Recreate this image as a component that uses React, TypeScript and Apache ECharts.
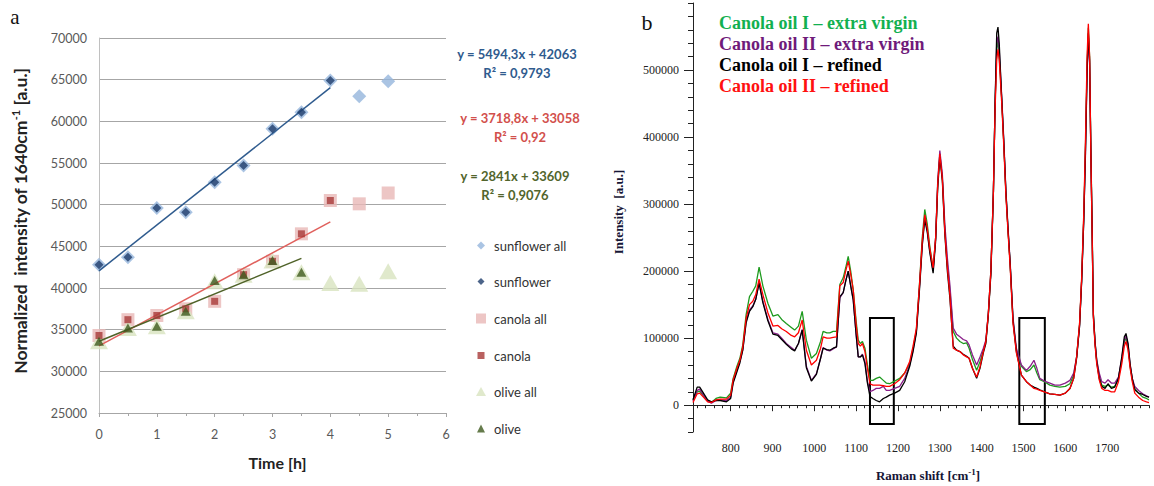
import React, { useEffect, useRef } from "react";
import * as echarts from "echarts";

// ---------- Panel a data ----------
const timeAll = [0, 0.5, 1, 1.5, 2, 2.5, 3, 3.5, 4, 4.5, 5];
const sunflowerAll = [42800, 43700, 49600, 49100, 52700, 54700, 59100, 61100, 64900, 63000, 64800];
const sunflower = [42800, 43700, 49600, 49100, 52700, 54700, 59100, 61100, 64900];
const canolaAll = [34300, 36200, 36700, 37500, 38400, 41600, 43200, 46500, 50500, 50100, 51400];
const canola = [34300, 36200, 36700, 37500, 38400, 41600, 43200, 46500, 50500];
const oliveAll = [33600, 35200, 35400, 37200, 40800, 41600, 43300, 41900, 40600, 40500, 42000];
const olive = [33600, 35200, 35400, 37200, 40900, 41600, 43300, 41900];
const sunflowerTrend = [[0, 42063], [4, 64040]];
const canolaTrend = [[0, 33058], [4, 47933]];
const oliveTrend = [[0, 33609], [3.5, 43553]];
const equations = [
  ["y = 5494,3x + 42063", "R² = 0,9793"],
  ["y = 3718,8x + 33058", "R² = 0,92"],
  ["y = 2841x + 33609", "R² = 0,9076"],
];
const leftYTicks = [25000, 70000, 5000];
const leftXTicks = [0, 6, 1];

// ---------- Panel b data (intensity in thousands of a.u.) ----------
const ramanShift = [
  710, 720, 726, 735, 745, 754, 765, 775, 790, 800, 806, 815, 822, 829, 837, 845, 853, 860, 868, 877,
  889, 901, 913, 922, 933, 945, 953, 962, 971, 981, 993, 1005, 1015, 1021, 1030, 1037, 1045, 1053, 1061, 1069,
  1075, 1081, 1087, 1093, 1100, 1105, 1110, 1115, 1121, 1127, 1133, 1140, 1148, 1156, 1165, 1172, 1180, 1192, 1204, 1216,
  1228, 1236, 1244, 1252, 1258, 1264, 1270, 1276, 1284, 1290, 1295, 1300, 1306, 1312, 1318, 1324, 1332, 1340, 1348, 1356,
  1364, 1370, 1378, 1388, 1396, 1404, 1410, 1416, 1422, 1428, 1432, 1436, 1439, 1442, 1448, 1453, 1458, 1463, 1468, 1475,
  1483, 1495, 1507, 1516, 1525, 1532, 1539, 1550, 1563, 1575, 1587, 1600, 1611, 1620, 1627, 1634, 1639, 1644, 1648, 1652,
  1655, 1658, 1661, 1664, 1667, 1671, 1675, 1681, 1687, 1695, 1702, 1710, 1718, 1727, 1735, 1741, 1745, 1750, 1755, 1760,
  1766, 1775, 1785, 1794, 1800,
];
const oilIVirgin = [
  8, 20, 21, 14, 7, 4, 10, 12, 11, 18, 40, 58, 70, 90, 135, 162, 170, 178, 206, 178,
  152, 133, 135, 128, 122, 116, 112, 118, 140, 97, 70, 77, 95, 110, 108, 108, 110, 110, 180, 190,
  205, 222, 200, 172, 125, 97, 92, 95, 85, 60, 37, 37, 40, 42, 37, 33, 32, 36, 40, 48,
  62, 85, 112, 187, 250, 292, 270, 237, 203, 250, 330, 375, 340, 262, 210, 172, 110, 100, 95, 92,
  93, 85, 68, 52, 65, 82, 95, 137, 200, 317, 447, 530, 545, 520, 456, 390, 317, 262, 212, 127,
  82, 58, 50, 53, 60, 48, 38, 35, 30, 28, 27, 28, 32, 45, 72, 120, 187, 280, 380, 506,
  563, 520, 382, 270, 137, 95, 67, 45, 30, 28, 30, 27, 28, 40, 67, 95, 100, 85, 57, 38,
  25, 18, 12, 10, 8,
];
const oilIIVirgin = [
  6, 22, 24, 15, 6, 3, 7, 8, 7, 12, 35, 52, 65, 83, 125, 142, 148, 158, 183, 155,
  128, 108, 106, 100, 92, 86, 82, 92, 113, 58, 37, 47, 70, 86, 82, 81, 84, 87, 160, 168,
  185, 200, 178, 157, 105, 72, 72, 76, 65, 35, 20, 22, 25, 25, 28, 22, 22, 25, 28, 40,
  60, 82, 110, 182, 240, 282, 260, 230, 200, 250, 335, 380, 345, 270, 220, 180, 115, 106, 102, 98,
  96, 90, 75, 60, 72, 85, 97, 138, 200, 317, 447, 540, 550, 530, 460, 395, 320, 265, 215, 130,
  85, 60, 52, 58, 67, 55, 40, 36, 33, 30, 30, 33, 37, 48, 72, 118, 185, 275, 370, 495,
  550, 510, 375, 260, 135, 95, 68, 48, 35, 33, 38, 33, 33, 42, 70, 98, 103, 90, 60, 40,
  28, 22, 17, 14, 12,
];
const oilIRefined = [
  8, 27, 27, 18, 8, 5, 7, 7, 5, 10, 33, 50, 63, 82, 123, 140, 147, 158, 182, 153,
  126, 106, 104, 98, 91, 84, 81, 92, 112, 56, 36, 46, 70, 85, 83, 82, 85, 87, 162, 168,
  185, 200, 178, 157, 105, 72, 72, 75, 62, 33, 13, 10, 7, 5, 10, 12, 15, 18, 22, 35,
  58, 80, 108, 178, 238, 277, 258, 228, 197, 245, 325, 370, 335, 255, 200, 160, 88, 82, 80, 76,
  73, 70, 55, 40, 55, 78, 92, 135, 195, 315, 447, 555, 564, 540, 456, 390, 317, 262, 212, 125,
  80, 45, 35, 30, 27, 25, 23, 20, 17, 16, 15, 18, 25, 40, 70, 118, 185, 275, 375, 500,
  555, 515, 380, 265, 135, 93, 65, 40, 28, 25, 32, 25, 27, 40, 72, 102, 107, 92, 60, 40,
  23, 18, 16, 13, 12,
];
const oilIIRefined = [
  4, 17, 18, 12, 5, 4, 8, 9, 9, 15, 38, 55, 67, 87, 130, 150, 155, 165, 188, 165,
  138, 118, 119, 114, 110, 104, 102, 108, 127, 82, 60, 67, 85, 102, 100, 100, 101, 102, 178, 183,
  200, 215, 195, 172, 120, 92, 88, 92, 80, 55, 32, 30, 30, 30, 29, 28, 28, 32, 38, 48,
  65, 88, 115, 185, 245, 284, 264, 234, 205, 250, 330, 375, 338, 258, 205, 165, 85, 82, 80, 75,
  72, 70, 55, 42, 57, 80, 95, 137, 200, 317, 440, 515, 531, 515, 450, 385, 312, 258, 208, 122,
  78, 45, 35, 30, 25, 24, 22, 20, 17, 16, 15, 18, 25, 40, 72, 122, 190, 285, 390, 520,
  569, 520, 375, 260, 130, 90, 62, 38, 25, 22, 22, 20, 20, 35, 62, 88, 95, 82, 55, 35,
  18, 12, 7, 5, 4,
];
const spectraNames = [
  "Canola oil I – extra virgin",
  "Canola oil II – extra virgin",
  "Canola oil I – refined",
  "Canola oil II – refined",
];
const spectraLineColors = ["#1e9a1e", "#8a1f8a", "#000000", "#ff0000"];
const spectraTextColors = ["#12b050", "#6f1a7a", "#000000", "#ff1010"];
const boxes = [
  [1133, 130000, 1190, -28000],
  [1490, 130000, 1551, -28000],
];
const rightXLabels = [800, 900, 1000, 1100, 1200, 1300, 1400, 1500, 1600, 1700];
const rightYLabels = [0, 100000, 200000, 300000, 400000, 500000];
const rightXMinor: number[] = [];
for (let v = 720; v <= 1800; v += 20) rightXMinor.push(v);
const rightYMinor: number[] = [];
for (let v = -40000; v <= 600000; v += 20000) rightYMinor.push(v);

const sans = "Lato";
const serif = "Liberation Serif";
const plain = (v: number) => String(v);

function pairs(xs: number[], ys: number[]) {
  return ys.map((y, i) => [xs[i], y]);
}

function buildOption(): any {
  const spectra = [oilIVirgin, oilIIVirgin, oilIRefined, oilIIRefined];
  const spectraSeries = spectra.map((arr, k) => ({
    name: spectraNames[k],
    type: "line",
    xAxisIndex: 1,
    yAxisIndex: 1,
    showSymbol: false,
    symbol: "none",
    lineStyle: { color: spectraLineColors[k], width: 1.3 },
    data: arr.map((v, i) => [ramanShift[i], v * 1000]),
    z: 3 + k,
    markArea:
      k === 3
        ? {
            silent: true,
            itemStyle: { color: "rgba(0,0,0,0)", borderColor: "#000", borderWidth: 2 },
            data: boxes.map((b) => [{ coord: [b[0], b[1]] }, { coord: [b[2], b[3]] }]),
          }
        : undefined,
  }));

  const legendDefs = [
    { name: "sunflower all", top: 239, w: 8, h: 8 },
    { name: "sunflower", top: 275, w: 7, h: 7 },
    { name: "canola all", top: 312, w: 10, h: 10 },
    { name: "canola", top: 349, w: 7, h: 7 },
    { name: "olive all", top: 385, w: 10, h: 9 },
    { name: "olive", top: 422, w: 8, h: 8 },
  ];
  const legends = legendDefs.map((d) => ({
    left: 476 + (10 - d.w) / 2,
    top: d.top,
    orient: "vertical",
    data: [d.name],
    itemWidth: d.w,
    itemHeight: d.h,
    itemGap: 0,
    selectedMode: false,
    padding: 0,
    textStyle: { fontFamily: sans, fontSize: 13, color: "#333", padding: [0, 0, 0, 3 + (10 - d.w) / 2] },
  }));

  const eqColors = ["#2f5b8e", "#d2504c", "#52652c"];
  const eqPos = [
    [517, 54, 73],
    [520, 118, 137],
    [515, 176, 195],
  ];
  const eqGraphics: any[] = [];
  equations.forEach((eq, i) => {
    eqGraphics.push({
      type: "text",
      x: eqPos[i][0],
      y: eqPos[i][1],
      style: { text: eq[0], fill: eqColors[i], fontFamily: sans, fontWeight: "bold", fontSize: 13, align: "center", verticalAlign: "middle" },
    });
    eqGraphics.push({
      type: "text",
      x: eqPos[i][0],
      y: eqPos[i][2],
      style: { text: eq[1], fill: eqColors[i], fontFamily: sans, fontWeight: "bold", fontSize: 13, align: "center", verticalAlign: "middle" },
    });
  });

  const rightLegend = spectraNames.map((n, i) => ({
    type: "text",
    x: 719,
    y: 23 + i * 21,
    style: { text: n, fill: spectraTextColors[i], fontFamily: serif, fontWeight: "bold", fontSize: 18, align: "left", verticalAlign: "middle" },
  }));

  return {
    animation: false,
    backgroundColor: "#fff",
    grid: [
      { left: 99, top: 38, width: 347, height: 375 },
      { left: 693, top: 3, width: 456, height: 429 },
    ],
    legend: legends,
    xAxis: [
      {
        gridIndex: 0,
        type: "value",
        min: leftXTicks[0],
        max: leftXTicks[1],
        interval: leftXTicks[2],
        axisLine: { show: true, lineStyle: { color: "#a6a6a6" } },
        axisTick: { show: true, length: 4, lineStyle: { color: "#a6a6a6" } },
        minorTick: { show: true, splitNumber: 2, length: 3, lineStyle: { color: "#a6a6a6" } },
        splitLine: { show: false },
        axisLabel: { fontFamily: sans, fontSize: 12.5, color: "#595959", margin: 15, formatter: plain },
        name: "Time [h]",
        nameLocation: "middle",
        nameGap: 41,
        nameTextStyle: { fontFamily: sans, fontWeight: "bold", fontSize: 16, color: "#222", padding: [0, 0, 0, 10] },
      },
      {
        gridIndex: 1,
        type: "value",
        min: 710,
        max: 1800,
        position: "bottom",
        axisLine: { show: true, lineStyle: { color: "#222", width: 1 } },
        axisTick: { show: true, length: 3, customValues: rightXMinor, lineStyle: { color: "#222" } },
        axisLabel: { customValues: rightXLabels, fontFamily: serif, fontSize: 12, color: "#222", margin: 10, formatter: plain },
        splitLine: { show: false },
      },
      {
        gridIndex: 1,
        type: "value",
        min: 710,
        max: 1800,
        position: "bottom",
        offset: 0,
        axisLine: { show: false },
        axisTick: { show: true, length: 6, customValues: rightXLabels, lineStyle: { color: "#222" } },
        axisLabel: { show: false },
        splitLine: { show: false },
      },
    ],
    yAxis: [
      {
        gridIndex: 0,
        type: "value",
        min: leftYTicks[0],
        max: leftYTicks[1],
        interval: leftYTicks[2],
        axisLine: { show: true, lineStyle: { color: "#c0c0c0" } },
        axisTick: { show: false },
        splitLine: { show: true, lineStyle: { color: "#a6a6a6", width: 1 } },
        axisLabel: { fontFamily: sans, fontSize: 12.5, color: "#595959", margin: 12, formatter: plain },
      },
      {
        gridIndex: 1,
        type: "value",
        min: -40000,
        max: 600000,
        position: "left",
        axisLine: { show: true, lineStyle: { color: "#222", width: 1 } },
        axisTick: { show: true, length: 5, customValues: rightYMinor, lineStyle: { color: "#222" } },
        axisLabel: { customValues: rightYLabels, fontFamily: serif, fontSize: 12, color: "#222", margin: 14, formatter: plain },
        splitLine: { show: false },
      },
      {
        gridIndex: 1,
        type: "value",
        min: -40000,
        max: 600000,
        position: "left",
        offset: 0,
        axisLine: { show: false },
        axisTick: { show: true, length: 9, customValues: rightYLabels, lineStyle: { color: "#222" } },
        axisLabel: { show: false },
        splitLine: { show: false },
      },
    ],
    graphic: [
      { type: "text", x: 15, y: 17, style: { text: "a", fill: "#111", fontFamily: serif, fontSize: 21, align: "center", verticalAlign: "middle" } },
      { type: "text", x: 647, y: 22, style: { text: "b", fill: "#111", fontFamily: serif, fontSize: 22, align: "center", verticalAlign: "middle" } },
      {
        type: "text",
        x: 20,
        y: 221,
        rotation: Math.PI / 2,
        style: {
          text: "{b|Normalized  intensity of 1640cm}{s|-1}{b| [a.u.]}",
          align: "center",
          verticalAlign: "middle",
          rich: {
            b: { fontFamily: sans, fontWeight: "bold", fontSize: 17.5, fill: "#222", lineHeight: 20 },
            s: { fontFamily: sans, fontWeight: "bold", fontSize: 11, fill: "#222", verticalAlign: "top", lineHeight: 20, padding: [0, 0, 9, 0] },
          },
        },
      },
      {
        type: "text",
        x: 618,
        y: 212,
        rotation: Math.PI / 2,
        style: { text: "Intensity  [a.u.]", fill: "#161636", fontFamily: serif, fontWeight: "bold", fontSize: 13, align: "center", verticalAlign: "middle" },
      },
      {
        type: "text",
        x: 928,
        y: 475,
        style: {
          text: "{b|Raman shift [cm}{s|-1}{b|]}",
          align: "center",
          verticalAlign: "middle",
          rich: {
            b: { fontFamily: serif, fontWeight: "bold", fontSize: 13, fill: "#161636", lineHeight: 16 },
            s: { fontFamily: serif, fontWeight: "bold", fontSize: 9, fill: "#161636", verticalAlign: "top", lineHeight: 16, padding: [0, 0, 7, 0] },
          },
        },
      },
      ...eqGraphics,
      ...rightLegend,
    ],
    series: [
      {
        name: "sunflower all",
        type: "scatter",
        xAxisIndex: 0,
        yAxisIndex: 0,
        symbol: "diamond",
        symbolSize: 14,
        itemStyle: { color: "#95b5dc" },
        data: pairs(timeAll, sunflowerAll),
        z: 2,
      },
      {
        name: "canola all",
        type: "scatter",
        xAxisIndex: 0,
        yAxisIndex: 0,
        symbol: "rect",
        symbolSize: 13,
        itemStyle: { color: "#e8b8b7" },
        data: pairs(timeAll, canolaAll),
        z: 2,
      },
      {
        name: "olive all",
        type: "scatter",
        xAxisIndex: 0,
        yAxisIndex: 0,
        symbol: "triangle",
        symbolSize: [18, 16],
        itemStyle: { color: "#d8e4bf" },
        data: pairs(timeAll, oliveAll),
        z: 2,
      },
      {
        name: "sunflower trend",
        type: "line",
        xAxisIndex: 0,
        yAxisIndex: 0,
        showSymbol: false,
        symbol: "none",
        lineStyle: { color: "#2f5b8e", width: 1.5 },
        data: sunflowerTrend,
        z: 3,
      },
      {
        name: "canola trend",
        type: "line",
        xAxisIndex: 0,
        yAxisIndex: 0,
        showSymbol: false,
        symbol: "none",
        lineStyle: { color: "#e0605c", width: 1.5 },
        data: canolaTrend,
        z: 3,
      },
      {
        name: "olive trend",
        type: "line",
        xAxisIndex: 0,
        yAxisIndex: 0,
        showSymbol: false,
        symbol: "none",
        lineStyle: { color: "#4f6228", width: 1.5 },
        data: oliveTrend,
        z: 3,
      },
      {
        name: "sunflower",
        type: "scatter",
        xAxisIndex: 0,
        yAxisIndex: 0,
        symbol: "diamond",
        symbolSize: 9,
        itemStyle: { color: "#1f3d6b" },
        data: pairs(timeAll, sunflower),
        z: 4,
      },
      {
        name: "canola",
        type: "scatter",
        xAxisIndex: 0,
        yAxisIndex: 0,
        symbol: "rect",
        symbolSize: 7,
        itemStyle: { color: "#a83a38" },
        data: pairs(timeAll, canola),
        z: 4,
      },
      {
        name: "olive",
        type: "scatter",
        xAxisIndex: 0,
        yAxisIndex: 0,
        symbol: "triangle",
        symbolSize: [10, 9],
        itemStyle: { color: "#3f5a1e" },
        data: pairs(timeAll, olive),
        z: 4,
      },
      ...spectraSeries,
    ],
  };
}

export default function App() {
  const ref = useRef<HTMLDivElement>(null);
  useEffect(() => {
    if (!ref.current) return;
    const chart = echarts.init(ref.current, null, { renderer: "svg" });
    chart.setOption(buildOption());
    return () => chart.dispose();
  }, []);
  return (
    <div
      ref={ref}
      style={{ position: "fixed", left: 0, top: 0, width: 1154, height: 486, background: "#fff" }}
    />
  );
}
